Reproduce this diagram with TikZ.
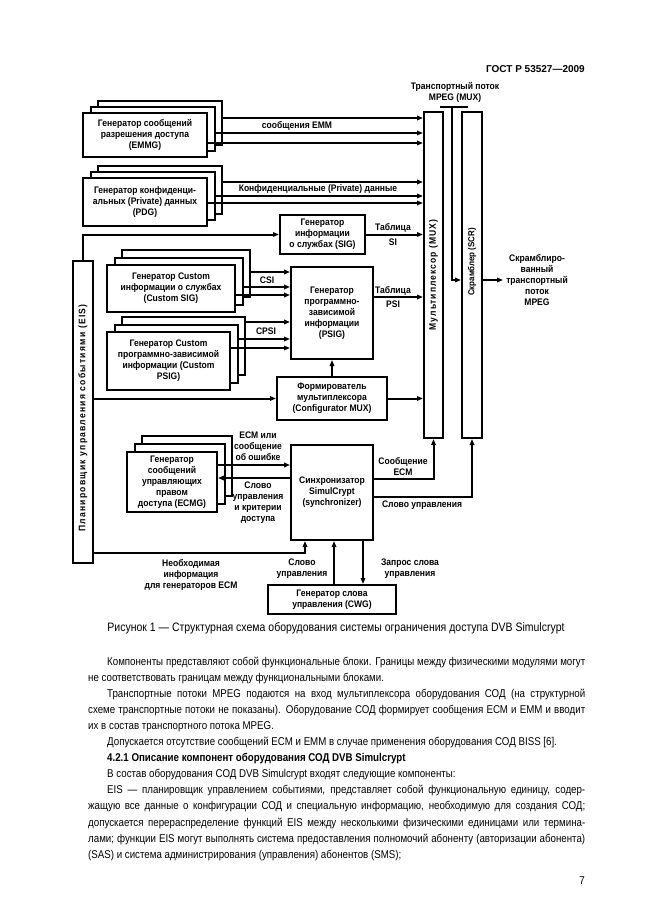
\documentclass[tikz,border=0pt]{standalone}
\usepackage{fontspec}
\setmainfont{Liberation Sans}
\newfontfamily\bodyfont{Liberation Sans}[FakeStretch=0.86]
\newfontfamily\dfont{Liberation Sans}[FakeStretch=0.9]
\newfontfamily\dsfont{Liberation Sans}[FakeStretch=0.9,LetterSpace=11]
\newfontfamily\dwfont{Liberation Sans}[FakeStretch=0.9,LetterSpace=13]
\usetikzlibrary{arrows.meta,calc}
\begin{document}
\begin{tikzpicture}[x=1pt,y=-1pt,
  dtext/.style={font=\dfont\bfseries\fontsize{9.5}{11}\selectfont},
  box/.style={dtext,draw,line width=2pt,fill=white,inner sep=0pt,align=center},
  lbl/.style={dtext,align=center,inner sep=0pt},
  ln/.style={line width=2pt},
  arr/.style={line width=2pt,-{Triangle[length=6pt,width=4.5pt]}},
  bodyf/.style={font=\bodyfont\fontsize{11.3}{16.1}\selectfont}]
\useasboundingbox[fill=white] (0,0) rectangle (646,913);

% header
\node[anchor=base east,inner sep=0pt,font=\bfseries\fontsize{10}{12}\selectfont] (hdr) at (585,72) {ГОСТ Р 53527—2009};

% MUX and SCR
\node[box,minimum width=19pt,minimum height=326pt] (mux) at (433.5,275) {};
\node[lbl,rotate=90,font=\dsfont\bfseries\fontsize{9.5}{11}\selectfont] (muxl) at (433.5,275) {Мультиплексор (MUX)};
\node[box,minimum width=20pt,minimum height=326pt] (scr) at (472,275) {};
\node[lbl,rotate=90,font=\dfont\bfseries\fontsize{8.8}{11}\selectfont] (scrl) at (472,262) {Скрамблер (SCR)};

% transport stream label and link MUX -> SCR
\node[lbl] (tsl) at (455,92) {Транспортный поток\\MPEG (MUX)};
\coordinate (bar) at (452,107);
\draw[ln] ([xshift=-12pt]bar) -- ([xshift=16pt]bar);
\draw[arr] (bar) |- (scr.west |- 0,280);
\coordinate (out) at (503,280);
\draw[arr] (scr.east |- out) -- (out);
\node[lbl] (outl) at (537,280) {Скрамблиро-\\ванный\\транспортный\\поток\\MPEG};

% EIS
\node[box,minimum width=20pt,minimum height=302pt] (eis) at (83,412) {};
\node[lbl,rotate=90,font=\dwfont\bfseries\fontsize{9.5}{11}\selectfont] (eisl) at (83,418) {Планировщик управления событиями (EIS)};

% EMMG stack
\node[box,minimum width=124pt,minimum height=44pt] (emmgC) at (160,123) {};
\node[box,minimum width=124pt,minimum height=44pt] (emmgB) at (152.5,129) {};
\node[box,minimum width=124pt,minimum height=44pt] (emmgA) at (145,135) {Генератор сообщений\\разрешения доступа\\(EMMG)};
\draw[arr] (emmgC.east |- 0,118) -- (mux.west |- 0,118);
\draw[arr] (emmgB.east |- 0,133) -- (mux.west |- 0,133);
\draw[arr] (emmgA.east |- 0,143) -- (mux.west |- 0,143);
\node[lbl] (emml) at (297,126) {сообщения EMM};

% PDG stack
\node[box,minimum width=124pt,minimum height=48pt] (pdgC) at (160,190) {};
\node[box,minimum width=124pt,minimum height=48pt] (pdgB) at (152.5,196) {};
\node[box,minimum width=124pt,minimum height=48pt] (pdgA) at (145,202) {Генератор конфиденци-\\альных (Private) данных\\(PDG)};
\draw[arr] (pdgC.east |- 0,182) -- (mux.west |- 0,182);
\draw[arr] (pdgB.east |- 0,196) -- (mux.west |- 0,196);
\draw[arr] (pdgA.east |- 0,203) -- (mux.west |- 0,203);
\node[lbl] (pdgl) at (318,189) {Конфиденциальные (Private) данные};

% SIG
\node[box,minimum width=85pt,minimum height=39pt] (sig) at (322.5,234.5) {Генератор\\информации\\о службах (SIG)};
\draw[arr] (eis.north) |- (sig.west);
\draw[arr] (sig.east) -- (mux.west |- sig.east);
\node[lbl] (sil1) at (393,228) {Таблица};
\node[lbl] (sil2) at (393,242) {SI};

% PSIG
\node[box,minimum width=82pt,minimum height=92pt] (psig) at (332,313) {Генератор\\программно-\\зависимой\\информации\\(PSIG)};
\draw[arr] (psig.east |- 0,297) -- (mux.west |- 0,297);
\node[lbl] (psil1) at (393,291) {Таблица};
\node[lbl] (psil2) at (393,304) {PSI};

% Custom SIG stack
\node[box,minimum width=128pt,minimum height=47pt] (csigC) at (186,273.5) {};
\node[box,minimum width=128pt,minimum height=47pt] (csigB) at (178.5,281) {};
\node[box,minimum width=128pt,minimum height=47pt] (csigA) at (171,288.5) {Генератор Custom\\информации о службах\\(Custom SIG)};
\draw[arr] (csigC.east |- 0,272) -- (psig.west |- 0,272);
\draw[arr] (csigB.east |- 0,287) -- (psig.west |- 0,287);
\draw[arr] (csigA.east |- 0,295) -- (psig.west |- 0,295);
\node[lbl] (csil) at (267,280) {CSI};

% Custom PSIG stack
\node[box,minimum width=123pt,minimum height=58pt] (cpsigC) at (183.5,346) {};
\node[box,minimum width=123pt,minimum height=58pt] (cpsigB) at (176,353.5) {};
\node[box,minimum width=123pt,minimum height=58pt] (cpsigA) at (168.5,361) {Генератор Custom\\программно-зависимой\\информации (Custom\\PSIG)};
\draw[arr] (cpsigC.east |- 0,322) -- (psig.west |- 0,322);
\draw[arr] (cpsigB.east |- 0,339) -- (psig.west |- 0,339);
\draw[arr] (cpsigA.east |- 0,348) -- (psig.west |- 0,348);
\node[lbl] (cpsil) at (266,331) {CPSI};

% Configurator MUX
\node[box,minimum width=110pt,minimum height=43pt] (cfg) at (332,398.5) {Формирователь\\мультиплексора\\(Configurator MUX)};
\draw[arr] (eis.east |- cfg.west) -- (cfg.west);
\draw[arr] (cfg.east) -- (mux.west |- cfg.east);
\draw[arr] (cfg.north) -- (psig.south);

% Synchronizer
\node[box,minimum width=82pt,minimum height=95pt] (sync) at (332,492.5) {Синхронизатор\\SimulCrypt\\(synchronizer)};

% ECMG stack
\node[box,minimum width=90pt,minimum height=60pt] (ecmgC) at (187,466) {};
\node[box,minimum width=90pt,minimum height=60pt] (ecmgB) at (179.5,474) {};
\node[box,minimum width=90pt,minimum height=60pt] (ecmgA) at (172,482) {Генератор\\сообщений\\управляющих\\правом\\доступа (ECMG)};
\draw[arr] (ecmgA.east |- 0,465) -- (sync.west |- 0,465);
\draw[arr] (sync.west |- 0,478) -- (ecmgA.east |- 0,478);
\node[lbl] (ecml) at (258,446) {ECM или\\сообщение\\об ошибке};
\node[lbl] (cwl) at (258,503) {Слово\\управления\\и критерии\\доступа};

% Sync outputs
\draw[arr] (sync.east |- 0,479) -| (mux.south);
\node[lbl] (ecmol) at (403,467) {Сообщение\\ECM};
\draw[arr] (sync.east |- 0,497) -| (scr.south);
\node[lbl] (cwol) at (422,505) {Слово управления};

% EIS -> sync
\draw[arr] (eis.east |- 0,553) -| (sync.south -| 305,0);
\node[lbl] (nil) at (191,575) {Необходимая\\информация\\для генераторов ECM};

% CWG
\node[box,minimum width=128pt,minimum height=29pt] (cwg) at (332,599.5) {Генератор слова\\управления (CWG)};
\draw[arr] (cwg.north -| 334,0) -- (sync.south -| 334,0);
\draw[arr] (sync.south -| 363,0) -- (cwg.north -| 363,0);
\node[lbl] (cwgl1) at (302,569) {Слово\\управления};
\node[lbl] (cwgl2) at (410,569) {Запрос слова\\управления};

% caption
\node[inner sep=0pt,font=\bodyfont\fontsize{12.2}{14}\selectfont] (cap) at (336,628) {Рисунок 1 — Структурная схема оборудования системы ограничения доступа DVB Simulcrypt};

% body text
\node[anchor=base west,inner sep=0pt,bodyf] (body) at (88,665) {\vtop{\hsize=497pt\baselineskip=16.1pt
\hbox to\hsize{\hspace{19pt}Компоненты представляют собой функциональные блоки. Границы между физическими модулями могут}
\hbox to\hsize{не соответствовать границам между функциональными блоками.\hfil}
\hbox to\hsize{\hspace{19pt}Транспортные потоки MPEG подаются на вход мультиплексора оборудования СОД (на структурной}
\hbox to\hsize{схеме транспортные потоки не показаны). Оборудование СОД формирует сообщения ЕСМ и ЕММ и вводит}
\hbox to\hsize{их в состав транспортного потока MPEG.\hfil}
\hbox to\hsize{\hspace{19pt}Допускается отсутствие сообщений ЕСМ и ЕММ в случае применения оборудования СОД BISS [6].\hfil}
\hbox to\hsize{\hspace{19pt}\bfseries 4.2.1 Описание компонент оборудования СОД DVB Simulcrypt\hfil}
\hbox to\hsize{\hspace{19pt}В состав оборудования СОД DVB Simulcrypt входят следующие компоненты:\hfil}
\hbox to\hsize{\hspace{19pt}EIS — планировщик управлением событиями, представляет собой функциональную единицу, содер-}
\hbox to\hsize{жащую все данные о конфигурации СОД и специальную информацию, необходимую для создания СОД;}
\hbox to\hsize{допускается перераспределение функций EIS между несколькими физическими единицами или термина-}
\hbox to\hsize{лами; функции EIS могут выполнять система предоставления полномочий абоненту (авторизации абонента)}
\hbox to\hsize{(SAS) и система администрирования (управления) абонентов (SMS);\hfil}
}};
\node[anchor=base east,inner sep=0pt,bodyf] (pg) at (585,884) {7};
\end{tikzpicture}
\end{document}
